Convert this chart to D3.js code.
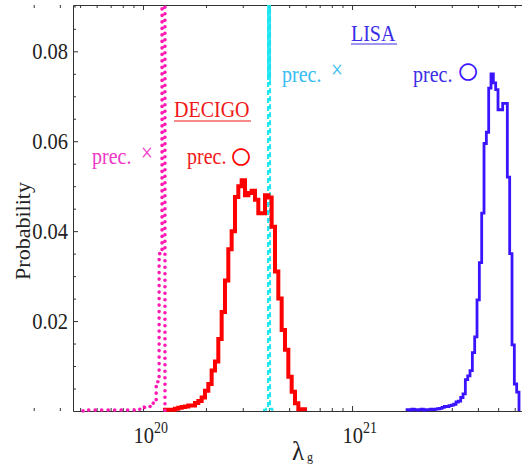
<!DOCTYPE html>
<html><head><meta charset="utf-8">
<script src="https://cdn.jsdelivr.net/npm/d3@7"></script>
<style>
body{margin:0;background:#fff}
svg text{font-family:"Liberation Serif","Times New Roman",serif}
</style>
</head><body>
<svg id="c" width="522" height="469"></svg>
<script>
// ---------- data ----------
const xDomainLog = [19.665, 21.813];          // log10(lambda_g) range of the frame
const yDomain = [0, 0.0903];
const yMajorTicks = [0.02, 0.04, 0.06, 0.08];
const yMinorTicks = [0.005,0.01,0.015,0.025,0.03,0.035,0.045,0.05,0.055,0.065,0.07,0.075,0.085,0.09];
const xMajorTicks = [1e20, 1e21];
const xMinorTicks = [2,3,4,5,6,7,8,9].map(m=>m*1e19).concat([2,3,4,5,6,7,8,9].map(m=>m*1e20)).concat([2,3,4,5,6].map(m=>m*1e21));

// histograms: first bin edge (log10), bin width (log10), bin probabilities
const decigoNoPrecStart = 19.713, decigoNoPrecWidth = 0.014;
const decigoNoPrec = [0.0002,0.0002,0.0002,0.0002,0.0002,0.0002,0.0002,0.0002,0.0002,0.0002,
  0.0002,0.0002,0.0002,0.0002,0.0002,0.0002,0.0002,0.0002,0.0002,0.0004,
  0.0006,0.0008,0.001,0.0012,0.0025,0.0065,0.035,0.15];

const decigoPrecStart = 20.105, decigoPrecWidth = 0.01595;
const decigoPrec = [0.0003,0.0003,0.0003,0.0005,0.0007,0.0009,0.001,0.0012,0.0012,0.0018,
  0.0022,0.003,0.0045,0.006,0.009,0.011,0.016,0.022,0.029,0.036,
  0.040,0.0476,0.050,0.0513,0.048,0.0485,0.049,0.047,0.044,0.044,
  0.048,0.0475,0.041,0.031,0.025,0.018,0.0136,0.0076,0.0043,0.0017,
  0.0004,0.0004];

const lisaNoPrecStart = 20.579, lisaNoPrecWidth = 0.00957;
const lisaNoPrec = [0.0003,0.0005,0.15,0.0005,0.0003];

const lisaPrecStart = 21.263, lisaPrecWidth = 0.01116;
const lisaPrec = [0.0003,0.0002,0.0004,0.0003,0.0002,0.0003,0.0004,0.0002,0.0003,0.0003,
  0.0004,0.0003,0.0004,0.0005,0.0006,0.0008,0.001,0.001,0.0012,0.0013,
  0.0015,0.002,0.0022,0.003,0.0038,0.007,0.0078,0.009,0.013,0.0165,
  0.0247,0.033,0.044,0.0595,0.062,0.0718,0.075,0.073,0.0715,0.067,
  0.067,0.0684,0.0684,0.052,0.035,0.0147,0.006,0.0042];

const colMagenta = "#ff1ab3", colRed = "#ff0000", colCyan = "#1de6f0", colBlue = "#3a14ff";
const txtMagenta = "#f036c6", txtRed = "#f01818", txtCyan = "#36bdf2", txtBlue = "#3a2ee6";
const vStretch = 1.15;   // glyphs in the original are a little taller than Liberation Serif

// ---------- drawing ----------
const svg = d3.select("#c");
const W = 522, H = 469;
const m = {left:73, top:5, right:0, bottom:58};
const x = d3.scaleLog().domain(xDomainLog.map(v=>Math.pow(10,v))).range([m.left, W - m.right]);
const y = d3.scaleLinear().domain(yDomain).range([H - m.bottom, m.top]);
const axisCol = "#333";

function styleAxis(g){
  g.attr("font-family", null).attr("font-size", null);
  g.selectAll("path,line").attr("stroke", axisCol).attr("stroke-width", 1);
}

// left axis
svg.append("g").attr("transform", `translate(${m.left},0)`)
  .call(d3.axisLeft(y).tickValues(yMajorTicks).tickSize(-5).tickSizeOuter(0).tickPadding(5).tickFormat(d3.format(".2f")))
  .call(styleAxis)
  .call(g=>g.selectAll("text").attr("font-size",20.5).attr("fill","#222").attr("transform",`scale(1,${vStretch})`));
svg.append("g").attr("transform", `translate(${m.left},0)`)
  .call(d3.axisLeft(y).tickValues(yMinorTicks).tickSize(-3).tickFormat(""))
  .call(styleAxis).call(g=>g.select(".domain").remove());

// top axis
svg.append("g").attr("transform", `translate(0,${m.top})`)
  .call(d3.axisTop(x).tickValues(xMajorTicks).tickSize(-5).tickSizeOuter(0).tickFormat(""))
  .call(styleAxis);
svg.append("g").attr("transform", `translate(0,${m.top})`)
  .call(d3.axisTop(x).tickValues(xMinorTicks).tickSize(-3).tickFormat(""))
  .call(styleAxis).call(g=>g.select(".domain").remove());

// bottom axis
svg.append("g").attr("transform", `translate(0,${H - m.bottom})`)
  .call(d3.axisBottom(x).tickValues(xMajorTicks).tickSize(-5).tickSizeOuter(0).tickPadding(13).tickFormat(""))
  .call(styleAxis)
  .call(g=>g.selectAll(".tick text").each(function(d){
    const t = d3.select(this).attr("font-size",20.5).attr("fill","#222").attr("text-anchor","start").attr("x",-10)
      .attr("transform",`scale(1,${vStretch})`);
    t.append("tspan").text("10");
    t.append("tspan").attr("font-size",14).attr("dy",-8).text(Math.round(Math.log10(d)));
  }));
svg.append("g").attr("transform", `translate(0,${H - m.bottom})`)
  .call(d3.axisBottom(x).tickValues(xMinorTicks).tickSize(-3).tickFormat(""))
  .call(styleAxis).call(g=>g.select(".domain").remove());

// clip
svg.append("clipPath").attr("id","plot").append("rect")
  .attr("x", m.left).attr("y", m.top).attr("width", W - m.left).attr("height", H - m.bottom - m.top + 6);
svg.append("clipPath").attr("id","topPart").append("rect")
  .attr("x", m.left).attr("y", m.top).attr("width", W - m.left).attr("height", y(0.0736) - m.top);

function histPath(start, width, h){
  const p = d3.path();
  const e = i => x(Math.pow(10, start + i*width));
  p.moveTo(e(0), y(0));
  h.forEach((v,i)=>{ p.lineTo(e(i), y(v)); p.lineTo(e(i+1), y(v)); });
  p.lineTo(e(h.length), y(0));
  return p.toString();
}

const plot = svg.append("g").attr("clip-path","url(#plot)");

// LISA without precession (cyan dashed spike)
plot.append("path").attr("d", histPath(lisaNoPrecStart, lisaNoPrecWidth, lisaNoPrec))
  .attr("fill","none").attr("stroke",colCyan).attr("stroke-width",2).attr("stroke-dasharray","5,3");
svg.append("g").attr("clip-path","url(#topPart)").append("path")
  .attr("d", histPath(lisaNoPrecStart, lisaNoPrecWidth, lisaNoPrec))
  .attr("fill","none").attr("stroke",colCyan).attr("stroke-width",1.8);

// DECIGO with precession (red thick)
plot.append("path").attr("d", histPath(decigoPrecStart, decigoPrecWidth, decigoPrec))
  .attr("fill","none").attr("stroke",colRed).attr("stroke-width",4).attr("stroke-linejoin","miter");

// LISA with precession (blue)
plot.append("path").attr("d", histPath(lisaPrecStart, lisaPrecWidth, lisaPrec))
  .attr("fill","none").attr("stroke",colBlue).attr("stroke-width",2.8).attr("stroke-linejoin","miter");

// DECIGO without precession (magenta dotted)
plot.append("path").attr("d", histPath(decigoNoPrecStart, decigoNoPrecWidth, decigoNoPrec))
  .attr("fill","none").attr("stroke",colMagenta).attr("stroke-width",3.6)
  .attr("stroke-linecap","round").attr("stroke-dasharray","0.1,6.4");

// ---------- labels ----------
svg.append("text").attr("transform","translate(30,231) rotate(-90)")
  .attr("text-anchor","middle").attr("font-size",22).attr("fill","#222").text("Probability");

const xl = svg.append("text").attr("transform","translate(292,460) scale(1,1.1)").attr("fill","#222");
xl.append("tspan").attr("font-size",25).text("λ");
xl.append("tspan").attr("font-size",12).attr("dx",3).attr("dy",1).text("g");

function ann(xp, yp, str, col, size){
  return svg.append("text").attr("transform",`translate(${xp},${yp}) scale(1,${vStretch})`)
    .attr("fill",col).attr("font-size",size||20).text(str);
}
// DECIGO group
ann(174, 117, "DECIGO", txtRed, 20);
svg.append("line").attr("x1",174).attr("x2",251).attr("y1",121).attr("y2",121).attr("stroke",txtRed).attr("stroke-width",1.2);
ann(92, 164, "prec.", txtMagenta);
ann(141, 161, "×", txtMagenta, 21);
ann(187, 164, "prec.", txtRed);
svg.append("text").attr("x",241).attr("y",169).attr("text-anchor","middle").attr("fill",colRed)
  .attr("font-size",40).attr("font-family","DejaVu Sans").attr("font-weight","bold").text("○");

// LISA group
ann(351, 41, "LISA", txtBlue, 20);
svg.append("line").attr("x1",351).attr("x2",397).attr("y1",44).attr("y2",44).attr("stroke",txtBlue).attr("stroke-width",1.2);
ann(282, 82, "prec.", txtCyan);
ann(331, 78, "×", txtCyan, 21);
ann(413, 82, "prec.", txtBlue);
svg.append("text").attr("x",468).attr("y",84).attr("text-anchor","middle").attr("fill",colBlue)
  .attr("font-size",40).attr("font-family","DejaVu Sans").attr("font-weight","bold").text("○");
</script>
</body></html>
